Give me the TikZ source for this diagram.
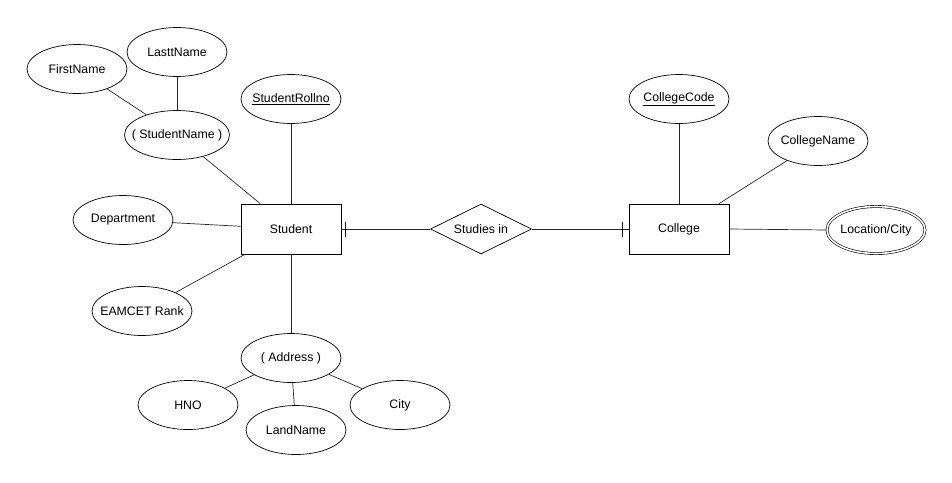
\documentclass[tikz,border=0pt]{standalone}
\usepackage{fontspec}
\setmainfont{Liberation Sans}
\usetikzlibrary{shapes.geometric}
\begin{document}
\begin{tikzpicture}[x=1pt,y=-1pt,
  every node/.style={font=\fontsize{12.3}{14}\selectfont},
  attr/.style={draw, ellipse, line width=0.7pt, minimum width=100pt, minimum height=49pt, inner xsep=-8pt, inner ysep=0pt},
  mattr/.style={draw, ellipse, line width=0.6pt, double, double distance=1.6pt, minimum width=98pt, minimum height=47pt, inner xsep=-8pt, inner ysep=0pt},
  entity/.style={draw, rectangle, line width=0.8pt, minimum width=100pt, minimum height=50pt, inner sep=0pt},
  rel/.style={draw, diamond, aspect=2, line width=0.7pt, minimum width=101pt, minimum height=50pt, inner sep=0pt},
  conn/.style={draw=black!85, line width=0.7pt},
  barmark/.style={draw=black, line width=0.8pt}]
\useasboundingbox (0,0) rectangle (952,482);

% Student side
\node[entity] (student) at (291,229) {Student};
\node[attr] (first) at (77,69) {FirstName};
\node[attr] (last) at (177,52) {LasttName};
\node[attr] (sname) at (177,135) {( StudentName )};
\node[attr] (roll) at (291,99) {\underline{StudentRollno}};
\node[attr] (dept) at (123,220) {Department};
\node[attr] (eamcet) at (142,311) {EAMCET Rank};
\node[attr] (addr) at (291,358) {( Address )};
\node[attr] (hno) at (188,405) {HNO};
\node[attr] (land) at (296,430) {LandName};
\node[attr] (city) at (400,405) {City};

% Relationship
\node[rel] (studies) at (481,229) {Studies in};

% College side
\node[entity] (college) at (679,229) {College};
\node[attr] (ccode) at (679,99) {\underline{CollegeCode}};
\node[attr] (cname) at (818,141) {CollegeName};
\node[mattr] (loc) at (876,230) {Location/City};

% Connectors
\draw[conn] (first) -- (sname);
\draw[conn] (last) -- (sname);
\draw[conn] (sname) -- (student);
\draw[conn] (roll) -- (student);
\draw[conn] (dept) -- (student);
\draw[conn] (eamcet) -- (student);
\draw[conn] (student) -- (addr);
\draw[conn] (addr) -- (hno);
\draw[conn] (addr) -- (land);
\draw[conn] (addr) -- (city);
\draw[conn] (student) -- (studies);
\draw[conn] (studies) -- (college);
\draw[conn] (ccode) -- (college);
\draw[conn] (cname) -- (college);
\draw[conn] (college.east) -- (loc.west);

% Cardinality bars
\draw[barmark] ([xshift=4pt,yshift=-7.5pt]student.east) -- ([xshift=4pt,yshift=7.5pt]student.east);
\draw[barmark] ([xshift=-6pt,yshift=-7.5pt]college.west) -- ([xshift=-6pt,yshift=7.5pt]college.west);
\end{tikzpicture}
\end{document}
